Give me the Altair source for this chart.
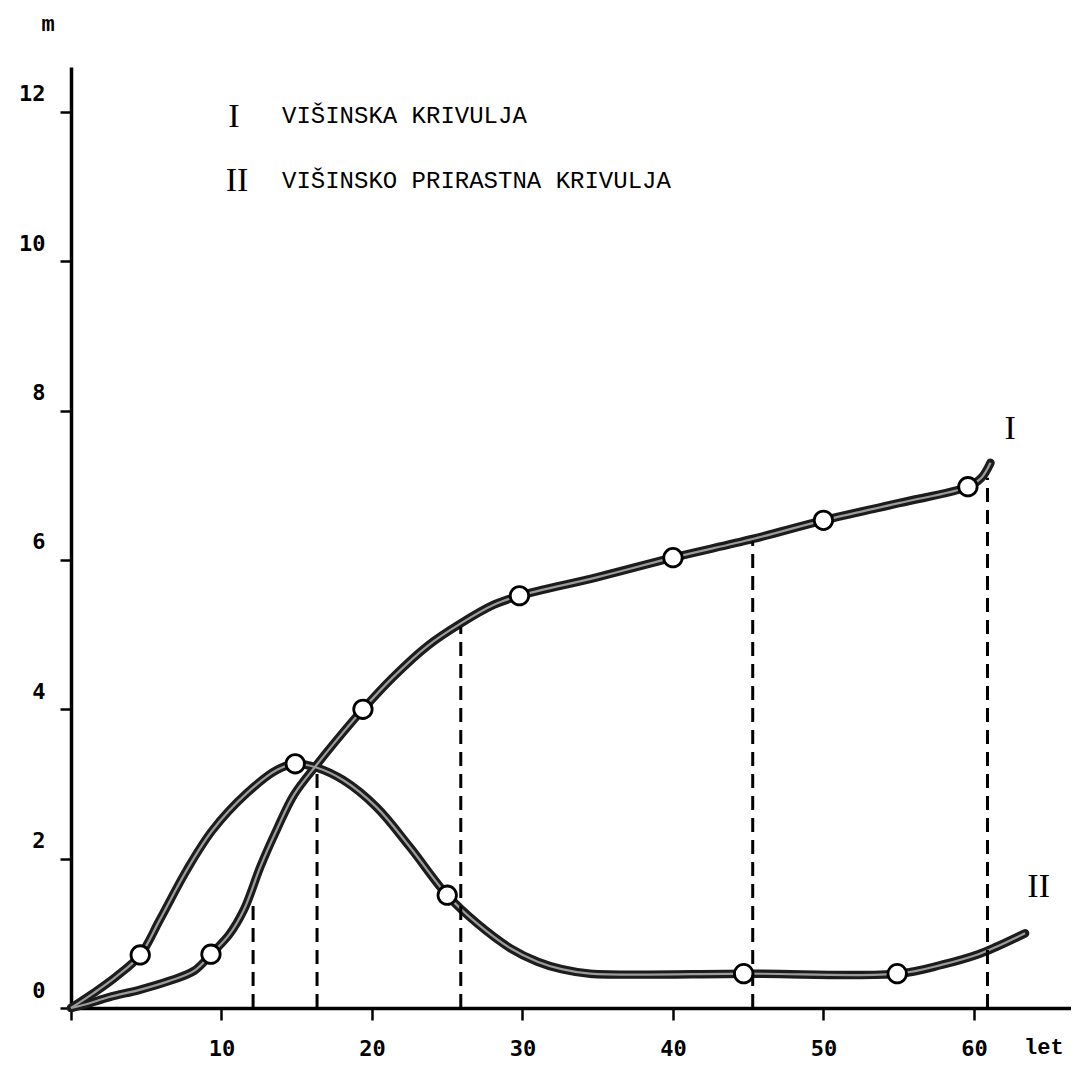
import altair as alt
import pandas as pd

# Curve I: višinska krivulja (height curve)
age_I = [0, 1, 2.6, 4.5, 6.5, 8.2, 9.3, 10.5, 11.5, 12.6, 13.7, 14.8, 16.3, 17.5, 19.4, 21.4,
         23.7, 25.9, 28.1, 29.8, 35, 40, 45.3, 50, 55, 59.6, 60.5, 61.1]
h_I = [0, 0.05, 0.15, 0.24, 0.36, 0.5, 0.72, 0.98, 1.32, 1.9, 2.4, 2.85, 3.25, 3.55, 4.0, 4.43,
       4.85, 5.15, 5.4, 5.52, 5.77, 6.03, 6.28, 6.53, 6.76, 6.98, 7.1, 7.3]

# Curve II: višinsko prirastna krivulja (height increment curve)
age_II = [0, 1.5, 3, 4.6, 5.9, 7.7, 9.4, 11.7, 13.7, 14.9, 16.3, 18.1, 20.3, 22.5,
          25.0, 27, 29.2, 31, 32.6, 34.5, 45, 55, 57.9, 60.3, 61.5, 63.4]
h_II = [0, 0.2, 0.42, 0.71, 1.18, 1.85, 2.38, 2.88, 3.19, 3.27, 3.22, 3.05, 2.69, 2.16,
        1.51, 1.13, 0.8, 0.62, 0.52, 0.46, 0.46, 0.46, 0.58, 0.72, 0.82, 1.0]

# Marked measurement points (circles)
pt_age_I = [9.3, 19.4, 29.8, 40, 50, 59.6]
pt_h_I = [0.72, 4.0, 5.52, 6.03, 6.53, 6.98]
pt_age_II = [4.6, 14.9, 25.0, 44.7, 54.9]
pt_h_II = [0.71, 3.27, 1.51, 0.46, 0.46]

# Dashed verticals
dash_age = [12.1, 16.35, 25.9, 45.3, 60.9]
dash_top = [1.4, 3.2, 5.1, 6.25, 7.1]

x_ticks = [0, 10, 20, 30, 40, 50, 60]
y_ticks = [0, 2, 4, 6, 8, 10, 12]

lines_df = pd.DataFrame(
    [{"age": a, "h": h, "s": "I", "o": i} for i, (a, h) in enumerate(zip(age_I, h_I))]
    + [{"age": a, "h": h, "s": "II", "o": i} for i, (a, h) in enumerate(zip(age_II, h_II))]
)
pts_df = pd.DataFrame(
    [{"age": a, "h": h} for a, h in zip(pt_age_I, pt_h_I)]
    + [{"age": a, "h": h} for a, h in zip(pt_age_II, pt_h_II)]
)
dash_df = pd.DataFrame({"age": dash_age, "top": dash_top, "bottom": [0] * len(dash_age)})

xs = alt.Scale(domain=[0, 66.45], nice=False, zero=False)
ys = alt.Scale(domain=[0, 12.6], nice=False, zero=False)

x_axis = alt.Axis(values=x_ticks, title=None, grid=False, domainColor="black", domainWidth=3.5,
                  tickColor="black", tickWidth=2.5, tickSize=12, format="d",
                  labelFont="DejaVu Sans Mono", labelFontSize=22, labelColor="black",
                  labelFontWeight="bold",
                  labelPadding=18, labelExpr="datum.value == 0 ? '' : datum.label")
y_axis = alt.Axis(values=y_ticks, title=None, grid=False, domainColor="black", domainWidth=3.5,
                  tickColor="black", tickWidth=2.5, tickSize=11, format="d",
                  labelFont="DejaVu Sans Mono", labelFontSize=22, labelColor="black",
                  labelFontWeight="bold",
                  labelPadding=15, labelOffset=-18)

base_x = alt.X("age:Q", scale=xs, axis=x_axis)
base_y = alt.Y("h:Q", scale=ys, axis=y_axis)

outer = alt.Chart(lines_df).mark_line(color="#1c1c1c", strokeWidth=8.5, interpolate="catmull-rom",
                                      strokeCap="round").encode(
    x=base_x, y=base_y, detail="s:N", order="o:Q")
inner = alt.Chart(lines_df).mark_line(color="#9c9c9c", strokeWidth=2.2, interpolate="catmull-rom").encode(
    x=alt.X("age:Q", scale=xs), y=alt.Y("h:Q", scale=ys), detail="s:N", order="o:Q")

dashes = alt.Chart(dash_df).mark_rule(color="black", strokeWidth=3, strokeDash=[14, 8]).encode(
    x=alt.X("age:Q", scale=xs), y=alt.Y("bottom:Q", scale=ys), y2="top:Q")

points = alt.Chart(pts_df).mark_point(filled=True, fill="white", stroke="black", strokeWidth=2.8,
                                      size=340, opacity=1).encode(
    x=alt.X("age:Q", scale=xs), y=alt.Y("h:Q", scale=ys))

# Text annotations
roman_df = pd.DataFrame({"age": [10.83, 11.03, 62.4, 64.3], "h": [11.93, 11.07, 7.75, 1.62],
                         "t": ["I", "II", "I", "II"]})
roman = alt.Chart(roman_df).mark_text(font="Liberation Serif", fontSize=34, color="black",
                                      align="center", baseline="middle").encode(
    x=alt.X("age:Q", scale=xs), y=alt.Y("h:Q", scale=ys), text="t:N")

legend_df = pd.DataFrame({"age": [14.02, 14.02], "h": [11.95, 11.08],
                          "t": ["VIŠINSKA KRIVULJA", "VIŠINSKO PRIRASTNA KRIVULJA"]})
legend = alt.Chart(legend_df).mark_text(font="Liberation Mono", fontSize=24, color="black",
                                        align="left", baseline="middle").encode(
    x=alt.X("age:Q", scale=xs), y=alt.Y("h:Q", scale=ys), text="t:N")

unit_df = pd.DataFrame({"age": [-1.53, 64.65], "h": [13.17, -0.52], "t": ["m", "let"]})
units = alt.Chart(unit_df).mark_text(font="Liberation Mono", fontSize=22, fontWeight="bold",
                                     color="black", align="center", baseline="middle").encode(
    x=alt.X("age:Q", scale=xs), y=alt.Y("h:Q", scale=ys), text="t:N")

chart = alt.layer(outer, inner, dashes, points, roman, legend, units).properties(
    width=1000, height=941,
    autosize=alt.AutoSizeParams(type="none"),
    padding={"left": 63, "top": 59, "right": 0, "bottom": 56},
    background="white",
).configure_view(stroke=None)

chart.save("out.html", embed_options={"renderer": "svg", "actions": False})
